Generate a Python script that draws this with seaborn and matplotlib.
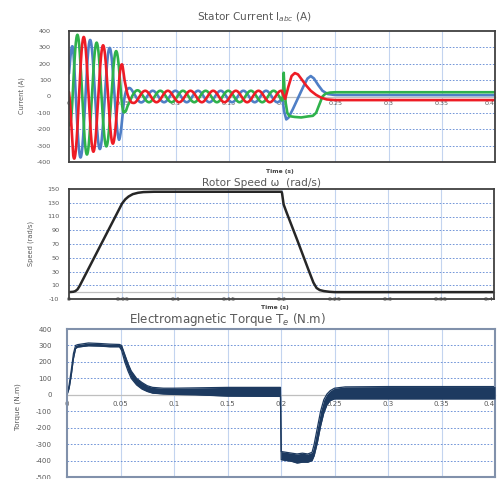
import numpy as np
import pandas as pd
import matplotlib
matplotlib.use("Agg")
import matplotlib.pyplot as plt
import seaborn as sns

# ---------------- data ----------------
time_ticks = [0, 0.05, 0.1, 0.15, 0.2, 0.25, 0.3, 0.35, 0.4]
time_labels = ["0", "0.05", "0.1", "0.15", "0.2", "0.25", "0.3", "0.35", "0.4"]

# Stator current, 0 - 0.2 s : three-phase oscillation (envelope + frequency)
env_t = [0.000, 0.004, 0.010, 0.020, 0.030, 0.040, 0.047, 0.050, 0.052, 0.055, 0.060, 0.070, 0.200]
env_amp = [180, 380, 375, 345, 318, 292, 268, 200, 115, 60, 40, 35, 35]
freq_t = [0.000, 0.045, 0.060, 0.200]
freq_hz = [56, 54, 47, 47]
green_first_peak = 0.0079
phase_shift_deg = {"green": 0, "red": -120, "blue": -240}

# Stator current, 0.2 - 0.4 s : transient key points per phase
tr_green_t = [0.2005, 0.2012, 0.2016, 0.2022, 0.2035, 0.205, 0.207, 0.212, 0.218, 0.224, 0.229, 0.232, 0.235, 0.238, 0.241, 0.245, 0.250, 0.400]
tr_green_v = [-20, 60, 145, 60, -40, -100, -120, -125, -128, -122, -118, -100, -50, 0, 18, 24, 26, 26]
tr_red_t = [0.2005, 0.203, 0.206, 0.209, 0.212, 0.215, 0.219, 0.223, 0.227, 0.232, 0.237, 0.242, 0.250, 0.400]
tr_red_v = [20, -15, 60, 125, 143, 135, 100, 65, 35, 10, -8, -18, -22, -22]
tr_blue_t = [0.2005, 0.202, 0.204, 0.206, 0.210, 0.215, 0.220, 0.224, 0.227, 0.230, 0.234, 0.238, 0.243, 0.250, 0.400]
tr_blue_v = [-20, -90, -140, -130, -80, -10, 60, 110, 125, 110, 70, 35, 15, 9, 8]

# Rotor speed (rad/s)
speed_t = [0, 0.004, 0.006, 0.008, 0.010, 0.020, 0.030, 0.040, 0.048, 0.050, 0.053, 0.056, 0.060, 0.065,
           0.070, 0.080, 0.200, 0.2005, 0.202, 0.205, 0.210, 0.215, 0.220, 0.225, 0.230, 0.233, 0.236,
           0.240, 0.245, 0.250, 0.400]
speed_v = [0, 0.5, 1.5, 4, 9, 39, 69, 99, 123, 129, 135, 139, 142.5, 144.5,
           145.5, 146, 146, 144, 127.5, 115, 95, 75, 54.5, 34, 14, 6, 3,
           1.5, 0.5, 0, 0]

# Electromagnetic torque (N.m): lower / upper edge of the ripple band
torque_t = [0.000, 0.002, 0.004, 0.006, 0.008, 0.010, 0.020, 0.030, 0.040, 0.049, 0.051, 0.054, 0.057,
            0.060, 0.065, 0.070, 0.075, 0.080, 0.090, 0.100, 0.120, 0.150, 0.1995, 0.2002, 0.205, 0.210,
            0.215, 0.220, 0.225, 0.229, 0.231, 0.234, 0.237, 0.240, 0.243, 0.246, 0.250, 0.260, 0.300, 0.400]
torque_lo = [0, 40, 120, 220, 282, 290, 298, 296, 292, 292, 270, 200, 145,
             100, 60, 35, 20, 10, 5, 2, 0, -8, -10, -395, -400, -405,
             -415, -410, -410, -400, -370, -290, -190, -110, -60, -35, -25, -25, -25, -25]
torque_hi = [0, 60, 150, 250, 300, 305, 315, 312, 308, 306, 300, 245, 190,
             145, 100, 75, 55, 45, 40, 40, 42, 45, 45, -345, -350, -355,
             -360, -355, -360, -350, -300, -200, -100, -30, 5, 25, 40, 48, 50, 50]

# ---------------- build the current table ----------------
t = np.arange(0, 0.2 + 1e-9, 0.0002)
amp = np.interp(t, env_t, env_amp)
f = np.interp(t, freq_t, freq_hz)
cycles = np.concatenate([[0], np.cumsum(0.5 * (f[1:] + f[:-1]) * np.diff(t))])
phi0 = 0.25 - np.interp(green_first_peak, t, cycles)
rows = []
trans = {"green": (tr_green_t, tr_green_v), "red": (tr_red_t, tr_red_v), "blue": (tr_blue_t, tr_blue_v)}
for ph, sh in phase_shift_deg.items():
    vals = amp * np.sin(2 * np.pi * (cycles + phi0) + np.deg2rad(sh))
    tt = np.concatenate([t, trans[ph][0]])
    vv = np.concatenate([vals, trans[ph][1]])
    rows.append(pd.DataFrame({"t": tt, "i": vv, "phase": ph}))
cur = pd.concat(rows, ignore_index=True)

speed = pd.DataFrame({"t": speed_t, "w": speed_v})
torque = pd.DataFrame({"t": torque_t, "lo": torque_lo, "hi": torque_hi})

# ---------------- drawing ----------------
sns.set_style("white")
plt.rcParams["font.family"] = ["DejaVu Sans"]
fig = plt.figure(figsize=(4.97, 4.79), dpi=100)
W, H = 497.0, 479.0

def axes_px(l, t_, r, b):
    return fig.add_axes([l / W, 1 - b / H, (r - l) / W, (b - t_) / H])

ax1 = axes_px(69, 31, 495, 162)
ax2 = axes_px(69, 189, 494, 299)
ax3 = axes_px(67, 329, 495, 477)

tick_col = "#595959"
vgrid = "#c3d4ef"
hgrid = "#5b85d2"

def style(ax, ylim, yticks, frame_col, frame_lw, lab_size, ypad, xpad):
    ax.set_xlim(0, 0.4)
    ax.set_ylim(*ylim)
    ax.set_xticks(time_ticks)
    ax.set_yticks(yticks)
    ax.set_yticklabels([str(v) for v in yticks])
    ax.tick_params(axis="x", labelbottom=False, length=0)
    ax.tick_params(axis="y", length=0, labelsize=lab_size, colors=tick_col, pad=ypad)
    ax.set_axisbelow(True)
    ax.grid(False)
    for x in time_ticks[1:-1]:
        ax.axvline(x, color=vgrid, lw=0.8, zorder=0)
    for y in yticks[1:-1]:
        ax.axhline(y, color=hgrid, lw=0.6, ls=(0, (2, 2)), zorder=0)
    for s in ax.spines.values():
        s.set_color(frame_col)
        s.set_linewidth(frame_lw)
    ax.set_xlabel("")
    ax.set_ylabel("")
    loc = (0 - ylim[0]) / (ylim[1] - ylim[0])
    sec = ax.secondary_xaxis(loc)
    sec.set_alignment("bottom")
    sec.set_xticks(time_ticks)
    sec.set_xticklabels(time_labels)
    sec.get_xticklabels()[-1].set_ha("right")
    sec.tick_params(length=0, labelsize=lab_size, colors=tick_col, pad=xpad)
    sec.spines["bottom"].set_color("#bfbfbf")
    sec.spines["bottom"].set_linewidth(0.9)
    return sec

# panel 1: stator current
sns.lineplot(data=cur, x="t", y="i", hue="phase", palette={"green": "#2fb24b", "red": "#ee1c25", "blue": "#4f7fc6"},
             hue_order=["blue", "green", "red"], lw=1.9, ax=ax1, legend=False, estimator=None, sort=False)
style(ax1, (-400, 400), list(range(-400, 401, 100)), "#404040", 1.3, 4.6, 13, 3.5)

# panel 2: rotor speed
sns.lineplot(data=speed, x="t", y="w", color="#262626", lw=1.8, ax=ax2, estimator=None)
style(ax2, (-10, 150), list(range(-10, 151, 20)), "#404040", 1.3, 4.6, 7, 3.5)

# panel 3: torque
ax3.fill_between(torque["t"], torque["lo"], torque["hi"], color="#1d3a60", lw=0, zorder=3)
sns.lineplot(data=torque, x="t", y="hi", color="#1d3a60", lw=0.9, ax=ax3, estimator=None)
sns.lineplot(data=torque, x="t", y="lo", color="#1d3a60", lw=0.9, ax=ax3, estimator=None)
style(ax3, (-500, 400), list(range(-500, 401, 100)), "#8191ab", 1.5, 5.0, 11, 4.5)

# titles and labels
title_col = "#595959"
fig.text(255 / W, 1 - 17 / H, "Stator Current I$_{abc}$ (A)", ha="center", va="center", fontsize=7.6, color=title_col)
fig.text(262 / W, 1 - 183 / H, "Rotor Speed \u03c9  (rad/s)", ha="center", va="center", fontsize=7.6, color=title_col)
fig.text(227 / W, 1 - 319 / H, "Electromagnetic Torque T$_e$ (N.m)", ha="center", va="center", fontsize=8.6, color=title_col)
fig.text(22 / W, 1 - 96 / H, "Current (A)", rotation=90, ha="center", va="center", fontsize=4.8, color=tick_col)
fig.text(31 / W, 1 - 243 / H, "Speed (rad/s)", rotation=90, ha="center", va="center", fontsize=4.8, color=tick_col)
fig.text(18 / W, 1 - 407 / H, "Torque (N.m)", rotation=90, ha="center", va="center", fontsize=5.2, color=tick_col)
fig.text(280 / W, 1 - 172 / H, "Time (s)", ha="center", va="center", fontsize=4.3, color="#404040", fontweight="bold")
fig.text(275 / W, 1 - 308 / H, "Time (s)", ha="center", va="center", fontsize=4.3, color="#404040", fontweight="bold")

fig.savefig("out.png", dpi=100)
